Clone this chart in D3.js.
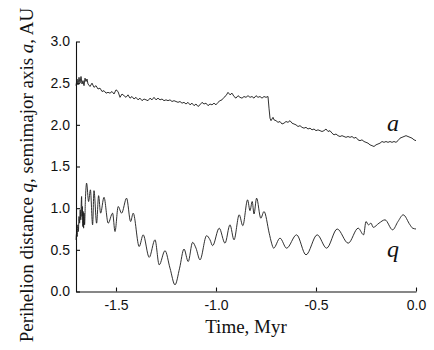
<!DOCTYPE html>
<html>
<head>
<meta charset="utf-8">
<script src="https://cdn.jsdelivr.net/npm/d3@7"></script>
<style>
  html, body { margin: 0; padding: 0; background: #fff; }
  svg { display: block; }
</style>
</head>
<body>
<svg id="chart" width="434" height="350"></svg>
<script>
// Time axis ticks and labels
const xTicks = [-1.5, -1.0, -0.5, 0.0];
const yTicks = [0.0, 0.5, 1.0, 1.5, 2.0, 2.5, 3.0];

// semimajor axis a (AU) vs time (Myr)
const timeA = [
  -1.700, -1.695, -1.690, -1.685, -1.680, -1.675, -1.670, -1.665, -1.660, -1.655,
  -1.650, -1.645, -1.640, -1.630, -1.620, -1.610, -1.600, -1.590, -1.580, -1.570,
  -1.560, -1.550, -1.540, -1.530, -1.520, -1.510, -1.500, -1.490, -1.480, -1.470,
  -1.460, -1.450, -1.440, -1.430, -1.420, -1.410, -1.400, -1.390, -1.380, -1.370,
  -1.360, -1.350, -1.340, -1.330, -1.320, -1.310, -1.300, -1.290, -1.280, -1.270,
  -1.260, -1.250, -1.240, -1.230, -1.220, -1.210, -1.200, -1.190, -1.180, -1.170,
  -1.160, -1.150, -1.140, -1.130, -1.120, -1.110, -1.100, -1.090, -1.080, -1.070,
  -1.060, -1.050, -1.040, -1.030, -1.020, -1.010, -1.000, -0.990, -0.980, -0.970,
  -0.960, -0.950, -0.940, -0.930, -0.920, -0.910, -0.900, -0.890, -0.880, -0.870,
  -0.860, -0.850, -0.840, -0.830, -0.820, -0.810, -0.800, -0.790, -0.780, -0.770,
  -0.760, -0.750, -0.740, -0.735, -0.730, -0.725, -0.720, -0.715, -0.710, -0.700,
  -0.690, -0.680, -0.670, -0.660, -0.650, -0.640, -0.630, -0.620, -0.610, -0.600,
  -0.590, -0.580, -0.570, -0.560, -0.550, -0.540, -0.530, -0.520, -0.510, -0.500,
  -0.490, -0.480, -0.470, -0.460, -0.450, -0.440, -0.430, -0.420, -0.410, -0.400,
  -0.390, -0.380, -0.370, -0.360, -0.350, -0.340, -0.330, -0.320, -0.310, -0.300,
  -0.290, -0.280, -0.270, -0.260, -0.250, -0.240, -0.230, -0.220, -0.210, -0.200,
  -0.190, -0.180, -0.170, -0.160, -0.150, -0.140, -0.130, -0.120, -0.110, -0.100,
  -0.090, -0.080, -0.070, -0.060, -0.050, -0.040, -0.030, -0.020, -0.010, 0.000
];
const semiA = [
  2.47, 2.55, 2.48, 2.57, 2.50, 2.58, 2.49, 2.53, 2.47, 2.56,
  2.52, 2.55, 2.49, 2.46, 2.50, 2.45, 2.47, 2.43, 2.44, 2.40,
  2.41, 2.38, 2.39, 2.38, 2.40, 2.37, 2.42, 2.40, 2.33, 2.37,
  2.35, 2.33, 2.36, 2.32, 2.34, 2.31, 2.33, 2.30, 2.32, 2.29,
  2.31, 2.30, 2.29, 2.32, 2.30, 2.33, 2.30, 2.32, 2.30, 2.31,
  2.29, 2.30, 2.29, 2.30, 2.28, 2.29, 2.28, 2.27, 2.28, 2.26,
  2.27, 2.25, 2.27, 2.24, 2.26, 2.23, 2.25, 2.22, 2.24, 2.27,
  2.25, 2.26, 2.23, 2.25, 2.24, 2.26, 2.24, 2.27, 2.29, 2.30,
  2.33, 2.35, 2.39, 2.36, 2.38, 2.34, 2.32, 2.35, 2.33, 2.32,
  2.34, 2.33, 2.35, 2.33, 2.34, 2.32, 2.35, 2.33, 2.34, 2.32,
  2.34, 2.33, 2.34, 2.20, 2.08, 2.05, 2.07, 2.09, 2.06, 2.05,
  2.03, 2.04, 2.01, 2.02, 2.04, 2.03, 2.05, 2.02, 2.01, 2.00,
  1.98, 1.99, 1.97, 1.96, 1.97, 1.95, 1.96, 1.94, 1.95, 1.93,
  1.94, 1.93, 1.92, 1.93, 1.95, 1.92, 1.93, 1.90, 1.88, 1.89,
  1.87, 1.86, 1.87, 1.86, 1.85, 1.86, 1.85, 1.86, 1.84, 1.85,
  1.82, 1.81, 1.82, 1.80, 1.79, 1.78, 1.76, 1.75, 1.74, 1.76,
  1.77, 1.78, 1.80, 1.79, 1.80, 1.79, 1.80, 1.79, 1.80, 1.79,
  1.81, 1.84, 1.85, 1.86, 1.87, 1.86, 1.85, 1.84, 1.82, 1.81
];

// perihelion distance q (AU) vs time (Myr)
const timeQ = [
  -1.700, -1.697, -1.694, -1.691, -1.688, -1.685, -1.682, -1.679, -1.676, -1.674,
  -1.672, -1.670, -1.668, -1.666, -1.664, -1.662, -1.660, -1.657, -1.653, -1.647,
  -1.637, -1.628, -1.617, -1.610, -1.597, -1.587, -1.577, -1.560, -1.539, -1.517,
  -1.505, -1.489, -1.472, -1.447, -1.427, -1.414, -1.384, -1.364, -1.334, -1.305,
  -1.284, -1.255, -1.230, -1.205, -1.182, -1.160, -1.139, -1.117, -1.100, -1.080,
  -1.047, -1.030, -1.017, -0.984, -0.955, -0.930, -0.910, -0.884, -0.866, -0.842,
  -0.830, -0.819, -0.810, -0.797, -0.776, -0.760, -0.734, -0.722, -0.712, -0.680,
  -0.647, -0.597, -0.550, -0.494, -0.447, -0.394, -0.339, -0.289, -0.262, -0.250,
  -0.238, -0.225, -0.214, -0.185, -0.155, -0.117, -0.090, -0.064, -0.030, -0.017,
  0.000
];
const periQ = [
  0.62, 0.70, 0.66, 0.80, 0.72, 0.90, 0.82, 0.98, 0.86, 1.04,
  1.14, 0.90, 1.02, 0.78, 0.96, 0.76, 0.94, 0.80, 1.10, 1.30,
  1.08, 1.22, 0.80, 1.21, 0.82, 1.15, 0.94, 1.13, 0.82, 0.94,
  0.72, 1.02, 0.94, 1.12, 0.84, 0.94, 0.54, 0.68, 0.41, 0.62,
  0.32, 0.49, 0.28, 0.08, 0.28, 0.51, 0.36, 0.59, 0.52, 0.38,
  0.67, 0.62, 0.55, 0.76, 0.58, 0.80, 0.62, 0.92, 0.79, 1.10,
  0.97, 1.08, 0.93, 1.12, 0.88, 0.96, 0.70, 0.58, 0.52, 0.64,
  0.52, 0.68, 0.44, 0.68, 0.52, 0.75, 0.58, 0.76, 0.68, 0.84,
  0.80, 0.82, 0.77, 0.82, 0.86, 0.74, 0.84, 0.92, 0.80, 0.76,
  0.75
];

const svg = d3.select('#chart');
const width = 434, height = 350;
svg.append('rect').attr('width', width).attr('height', height).attr('fill', '#fff');

const margin = { left: 76, right: 18, top: 41.5, bottom: 58.5 };

const x = d3.scaleLinear()
    .domain([-1.7, 0])
    .range([margin.left, width - margin.right]);
const y = d3.scaleLinear()
    .domain([0, 3])
    .range([height - margin.bottom, margin.top]);

const sansFont = '"Liberation Sans", Arial, sans-serif';
const serifFont = '"Liberation Serif", "Times New Roman", serif';

// Axes (ticks point inward)
const xAxis = svg.append('g')
    .attr('transform', `translate(0,${y(0)})`)
    .call(d3.axisBottom(x).tickValues(xTicks).tickSizeInner(-4).tickSizeOuter(0)
        .tickFormat(d3.format('.1f')).tickPadding(9));
const yAxis = svg.append('g')
    .attr('transform', `translate(${x(-1.7)},0)`)
    .call(d3.axisLeft(y).tickValues(yTicks).tickSizeInner(-4).tickSizeOuter(0)
        .tickFormat(d3.format('.1f')).tickPadding(6));

[xAxis, yAxis].forEach(g => {
    g.select('.domain').attr('stroke', '#111').attr('stroke-width', 1.1);
    g.selectAll('.tick line').attr('stroke', '#111').attr('stroke-width', 1.1);
    g.selectAll('.tick text')
        .attr('fill', '#111')
        .style('font-family', sansFont)
        .style('font-size', '14px');
});
xAxis.selectAll('.tick text').text(d => d3.format('.1f')(d).replace('−', '-'));
yAxis.selectAll('.tick text').text(d => d3.format('.1f')(d));

// Curves
const lineA = d3.line()
    .x((d, i) => x(timeA[i]))
    .y(d => y(d))
    .curve(d3.curveLinear);
const lineQ = d3.line()
    .x((d, i) => x(timeQ[i]))
    .y(d => y(d))
    .curve(d3.curveMonotoneX);

svg.append('path')
    .attr('d', lineA(semiA))
    .attr('fill', 'none')
    .attr('stroke', '#1a1a1a')
    .attr('stroke-width', 0.9);
svg.append('path')
    .attr('d', lineQ(periQ))
    .attr('fill', 'none')
    .attr('stroke', '#1a1a1a')
    .attr('stroke-width', 0.9);

// Curve labels
svg.append('text')
    .attr('x', 393).attr('y', 131)
    .attr('text-anchor', 'middle')
    .style('font-family', serifFont)
    .style('font-style', 'italic')
    .style('font-size', '24px')
    .attr('fill', '#111')
    .text('a');
svg.append('text')
    .attr('x', 393).attr('y', 257)
    .attr('text-anchor', 'middle')
    .style('font-family', serifFont)
    .style('font-style', 'italic')
    .style('font-size', '24px')
    .attr('fill', '#111')
    .text('q');

// Axis titles
svg.append('text')
    .attr('x', (x(-1.7) + x(0)) / 2)
    .attr('y', 333)
    .attr('text-anchor', 'middle')
    .style('font-family', serifFont)
    .style('font-size', '19px')
    .attr('fill', '#111')
    .text('Time, Myr');

const yTitle = svg.append('text')
    .attr('transform', 'translate(33,175) rotate(-90)')
    .attr('text-anchor', 'middle')
    .style('font-family', serifFont)
    .style('font-size', '19px')
    .attr('fill', '#111');
yTitle.append('tspan').text('Perihelion distance ');
yTitle.append('tspan').style('font-style', 'italic').text('q');
yTitle.append('tspan').text(', semimajor axis ');
yTitle.append('tspan').style('font-style', 'italic').text('a');
yTitle.append('tspan').text(', AU');
</script>
</body>
</html>
